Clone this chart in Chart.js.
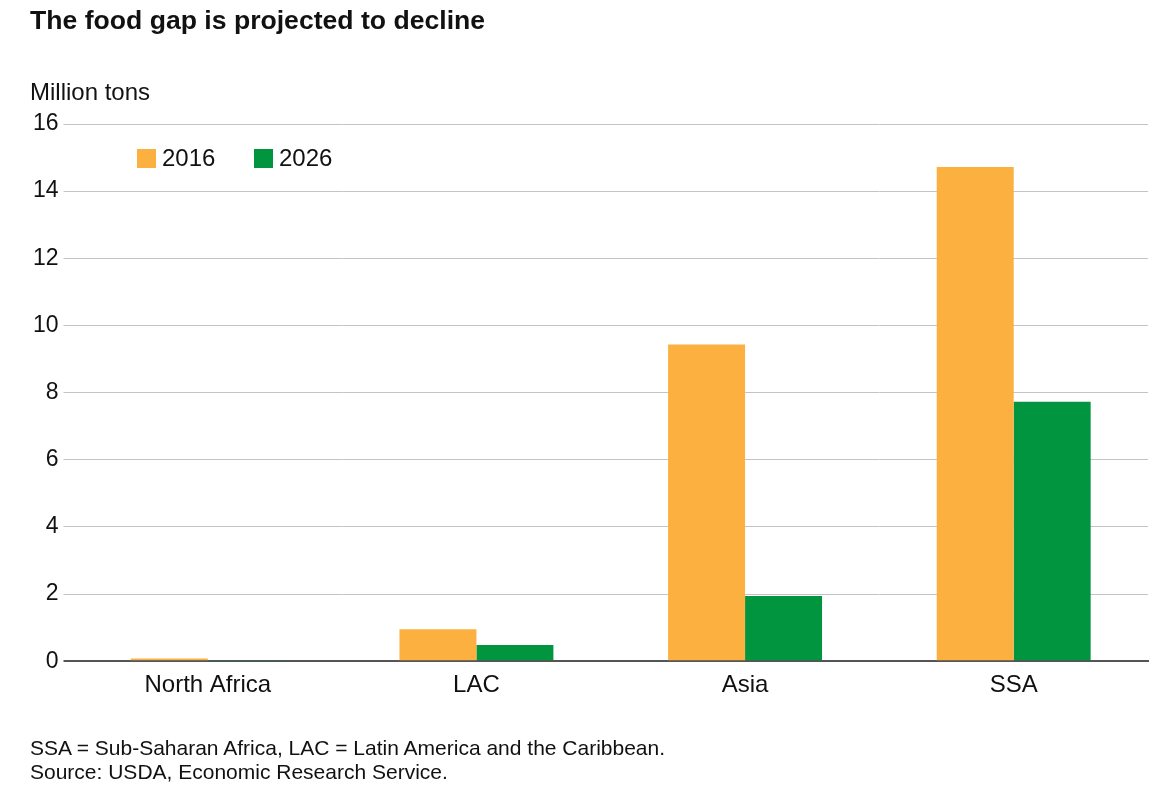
<html>
<head>
<script src="https://cdn.jsdelivr.net/npm/chart.js@4.4.0/dist/chart.umd.min.js"></script>
<style>
  body { margin: 0; background: #fff; font-family: "Liberation Sans", Arial, sans-serif; color: #111; }
  #wrap { position: relative; width: 1158px; height: 808px; }
  #title { position: absolute; left: 30px; top: 5px; font-size: 26.6px; font-weight: bold; }
  #unit { position: absolute; left: 30px; top: 78px; font-size: 24px; }
  #note { position: absolute; left: 30px; top: 736px; font-size: 21px; line-height: 24px; }
  canvas { position: absolute; left: 0; top: 0; }
</style>
</head>
<body>
<div id="wrap">
  <canvas id="myChart" width="1158" height="808"></canvas>
  <div id="title">The food gap is projected to decline</div>
  <div id="unit">Million tons</div>
  <div id="note">SSA = Sub-Saharan Africa, LAC = Latin America and the Caribbean.<br>Source: USDA, Economic Research Service.</div>
</div>
<script>
  var regions = ["North Africa", "LAC", "Asia", "SSA"];
  var gap2016 = [0.08, 0.95, 9.43, 14.72];
  var gap2026 = [0.02, 0.48, 1.94, 7.73];
  var yTicks = [0, 2, 4, 6, 8, 10, 12, 14, 16];

  // legend sits inside the plot, top left
  var insideLegend = {
    id: 'insideLegend',
    afterDraw: function (chart) {
      var c = chart.ctx, a = chart.chartArea;
      c.save();
      c.font = '24px "Liberation Sans", Arial, sans-serif';
      c.textBaseline = 'middle';
      chart.data.datasets.forEach(function (ds, i) {
        var x = a.left + 63.5 + i * 117;
        c.fillStyle = ds.backgroundColor;
        c.fillRect(x, 149, 19, 19);
        c.fillStyle = '#111';
        c.fillText(ds.label, x + 25, 159);
      });
      c.restore();
    }
  };

  var ctx = document.getElementById('myChart').getContext('2d');
  new Chart(ctx, {
    type: 'bar',
    data: {
      labels: regions,
      datasets: [
        { label: '2016', data: gap2016, backgroundColor: '#fbb040' },
        { label: '2026', data: gap2026, backgroundColor: '#00953e' }
      ]
    },
    options: {
      responsive: false,
      animation: false,
      layout: { padding: { top: 124, left: 30, right: 10, bottom: 106 } },
      plugins: { legend: { display: false }, tooltip: { enabled: false } },
      datasets: { bar: { categoryPercentage: 0.573, barPercentage: 1.0 } },
      scales: {
        x: {
          grid: { display: false },
          border: { color: '#555', width: 2 },
          ticks: { color: '#111', font: { size: 24, family: '"Liberation Sans", Arial, sans-serif' }, padding: 2 }
        },
        y: {
          min: 0, max: 16,
          afterBuildTicks: function (s) { s.ticks = yTicks.map(function (v) { return { value: v }; }); },
          afterFit: function (s) { s.width = 43.5; },
          grid: {
            tickLength: 10,
            color: function (c) { return c.tick.value === 0 ? '#555' : '#c4c4c4'; },
            lineWidth: function (c) { return c.tick.value === 0 ? 2 : 1; }
          },
          border: { display: false },
          ticks: { color: '#111', font: { size: 23, family: '"Liberation Sans", Arial, sans-serif' }, padding: 5 }
        }
      }
    },
    plugins: [insideLegend]
  });
</script>
</body>
</html>
